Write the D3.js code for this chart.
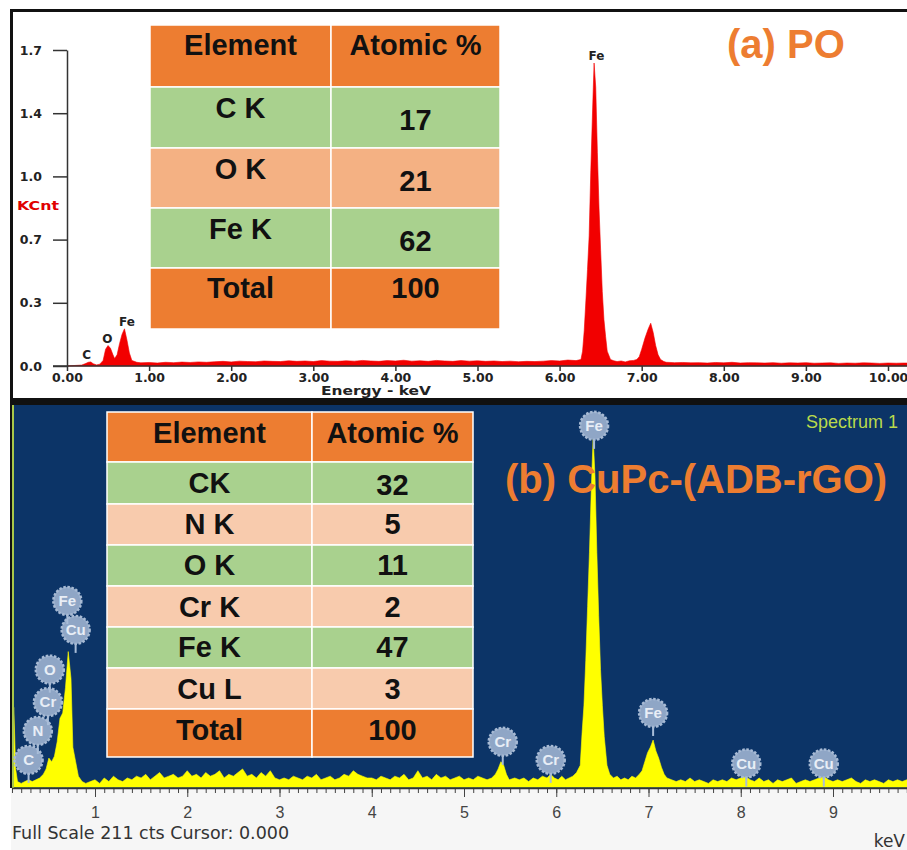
<!DOCTYPE html>
<html>
<head>
<meta charset="utf-8">
<title>EDX spectra</title>
<script src="https://d3js.org/d3.v7.min.js"></script>
<style>
  body { margin: 0; background: #fff; }
  svg text { font-family: "Liberation Sans", Arial, sans-serif; }
</style>
</head>
<body>
<script>
// ---------- data : (a) PO ----------
var tableElementsA = ['C K', 'O K', 'Fe K'];
var tableValuesA = [17, 21, 62];
var tableTotalA = 100;

var xTicksA = [0, 1, 2, 3, 4, 5, 6, 7, 8, 9, 10];
var yTicksA = [0, 0.34, 0.68, 1.02, 1.36, 1.7];
var yTickLabelsA = ['0.0', '0.3', '0.7', '1.0', '1.4', '1.7'];

// [keV, KCnt]
var specA = [
  [0.00,0],[0.10,0.003],[0.18,0.005],[0.22,0.012],[0.26,0.02],[0.29,0.022],[0.32,0.012],[0.36,0.006],
  [0.40,0.01],[0.44,0.03],[0.47,0.09],[0.50,0.11],[0.53,0.095],[0.56,0.06],[0.58,0.04],[0.61,0.06],
  [0.64,0.12],[0.67,0.17],[0.70,0.20],[0.73,0.14],[0.76,0.07],[0.79,0.03],[0.85,0.02],
  [0.9,0.017],[1.0,0.019],[1.1,0.016],[1.2,0.02],[1.3,0.018],[1.4,0.021],[1.5,0.019],[1.6,0.022],
  [1.7,0.02],[1.8,0.023],[1.9,0.025],[2.0,0.022],[2.1,0.026],[2.2,0.024],[2.3,0.023],[2.4,0.027],
  [2.5,0.025],[2.6,0.024],[2.7,0.028],[2.8,0.025],[2.9,0.027],[3.0,0.024],[3.1,0.029],[3.2,0.026],
  [3.3,0.025],[3.4,0.028],[3.5,0.026],[3.6,0.03],[3.7,0.027],[3.8,0.025],[3.9,0.029],[4.0,0.027],
  [4.1,0.031],[4.2,0.026],[4.3,0.028],[4.4,0.025],[4.5,0.03],[4.6,0.027],[4.7,0.025],[4.8,0.029],
  [4.9,0.026],[5.0,0.028],[5.1,0.025],[5.2,0.027],[5.3,0.024],[5.4,0.026],[5.5,0.023],[5.6,0.025],
  [5.7,0.024],[5.8,0.026],[5.9,0.029],[6.0,0.027],[6.1,0.032],[6.2,0.029],
  [6.26,0.035],[6.28,0.08],[6.30,0.19],[6.32,0.35],[6.34,0.52],[6.36,0.70],[6.38,1.05],[6.40,1.35],
  [6.42,1.63],[6.44,1.50],[6.46,1.15],[6.48,0.85],[6.50,0.62],[6.52,0.40],[6.54,0.25],[6.56,0.16],
  [6.58,0.08],[6.62,0.035],[6.66,0.028],[6.7,0.024],[6.75,0.027],[6.8,0.022],[6.85,0.028],[6.9,0.03],
  [6.94,0.035],[6.97,0.05],[7.00,0.09],[7.04,0.15],[7.08,0.20],[7.11,0.23],[7.14,0.18],[7.17,0.11],
  [7.20,0.06],[7.23,0.035],[7.27,0.024],
  [7.3,0.02],[7.4,0.018],[7.5,0.019],[7.6,0.017],[7.7,0.018],[7.8,0.016],[7.9,0.019],[8.0,0.017],
  [8.1,0.02],[8.2,0.016],[8.3,0.018],[8.4,0.017],[8.5,0.016],[8.6,0.018],[8.7,0.015],[8.8,0.017],
  [8.9,0.016],[9.0,0.018],[9.1,0.015],[9.2,0.016],[9.3,0.017],[9.4,0.014],[9.5,0.016],[9.6,0.015],
  [9.7,0.017],[9.8,0.016],[9.9,0.014],[10.0,0.016],[10.1,0.015],[10.2,0.016],[10.3,0.015]
];
// peak labels [name, keV, KCnt]
var peakLabelsA = [['C', 0.24, 0.02], ['O', 0.49, 0.11], ['Fe', 0.73, 0.2], ['Fe', 6.45, 1.63]];

// ---------- data : (b) CuPc-(ADB-rGO) ----------
var tableElementsB = ['CK', 'N K', 'O K', 'Cr K', 'Fe K', 'Cu L'];
var tableValuesB = [32, 5, 11, 2, 47, 3];
var tableTotalB = 100;

var xTicksB = [1, 2, 3, 4, 5, 6, 7, 8, 9];

// [keV, counts]
var specB = [
  [0.00,0],[0.08,2],[0.10,40],[0.12,44],[0.14,10],[0.16,3],[0.20,2],[0.24,3],[0.28,4],[0.32,3],
  [0.36,4],[0.40,5],[0.44,7],[0.47,10],[0.50,16],[0.53,14],[0.56,17],[0.59,25],[0.62,38],[0.65,41],
  [0.68,55],[0.71,75],[0.74,60],[0.76,22],[0.79,14],[0.82,6],[0.86,3],[0.90,2],
  [0.95,3],[1.0,4],[1.05,2],[1.1,5],[1.15,3],[1.2,6],[1.25,4],[1.3,3],[1.35,5],[1.4,4],[1.45,6],
  [1.5,5],[1.55,7],[1.6,4],[1.65,6],[1.7,8],[1.75,5],[1.8,6],[1.85,7],[1.9,5],[1.95,6],[2.0,9],
  [2.05,6],[2.1,7],[2.15,5],[2.2,8],[2.25,6],[2.3,7],[2.35,9],[2.4,5],[2.45,7],[2.5,6],[2.55,8],
  [2.6,10],[2.65,6],[2.7,7],[2.75,5],[2.8,8],[2.85,6],[2.9,9],[2.95,5],[3.0,4],[3.05,5],[3.1,4],
  [3.15,6],[3.2,5],[3.25,4],[3.3,6],[3.35,5],[3.4,7],[3.45,4],[3.5,5],[3.55,6],[3.6,4],[3.65,5],
  [3.7,7],[3.75,6],[3.8,9],[3.85,7],[3.9,6],[3.95,5],[4.0,5],[4.05,4],[4.1,6],[4.15,5],[4.2,4],
  [4.25,6],[4.3,5],[4.35,7],[4.4,4],[4.45,5],[4.5,9],[4.55,5],[4.6,6],[4.65,4],[4.7,7],[4.75,5],
  [4.8,6],[4.85,4],[4.9,5],[4.95,6],[5.0,4],[5.05,5],[5.1,4],[5.15,6],[5.2,5],[5.25,4],[5.3,5],
  [5.34,7],[5.37,10],[5.40,14],[5.43,12],[5.46,7],[5.49,4],
  [5.55,5],[5.6,4],[5.65,5],[5.7,3],[5.75,5],[5.8,4],[5.85,6],[5.9,5],[5.94,7],[5.98,5],[6.02,4],
  [6.06,6],[6.1,4],[6.14,5],[6.18,6],[6.22,8],
  [6.26,12],[6.28,30],[6.30,45],[6.32,70],[6.34,100],[6.36,130],[6.38,165],[6.40,194],[6.42,172],
  [6.44,130],[6.46,95],[6.48,65],[6.50,45],[6.52,28],[6.55,12],[6.58,7],
  [6.62,5],[6.66,6],[6.70,4],[6.74,5],[6.78,4],[6.82,6],[6.86,5],[6.90,7],
  [6.93,9],[6.96,14],[6.99,19],[7.02,22],[7.05,26],[7.08,20],[7.11,16],[7.14,11],[7.17,7],[7.20,5],
  [7.25,4],[7.3,3],[7.35,4],[7.4,3],[7.45,5],[7.5,3],[7.55,4],[7.6,3],[7.65,2],[7.7,4],[7.75,3],
  [7.8,4],[7.85,3],[7.9,5],[7.95,4],[8.0,5],[8.05,6],[8.1,4],[8.15,3],[8.2,5],[8.25,3],[8.3,4],
  [8.35,2],[8.4,4],[8.45,3],[8.5,4],[8.55,5],[8.6,2],[8.65,3],[8.7,4],[8.75,3],[8.8,4],[8.85,5],
  [8.9,6],[8.95,4],[9.0,3],[9.05,4],[9.1,3],[9.15,4],[9.2,5],[9.25,3],[9.3,2],[9.35,4],[9.4,3],
  [9.45,4],[9.5,3],[9.55,2],[9.6,4],[9.65,3],[9.7,4],[9.75,3],[9.8,4],[9.85,3],[9.9,2],[9.95,3],[10.0,3]
];
// marker labels [name, keV, counts]
var peakLabelsB = [
  ['C', 0.28, 15], ['N', 0.38, 31], ['Cr', 0.49, 47], ['O', 0.51, 65], ['Cu', 0.79, 87], ['Fe', 0.70, 103],
  ['Cr', 5.42, 25], ['Cr', 5.94, 15], ['Fe', 6.41, 200], ['Fe', 7.05, 41], ['Cu', 8.06, 13], ['Cu', 8.90, 13]
];

// ---------- drawing ----------
var width = 907, height = 850;
var orange = '#ed7d31', green = '#a9d18e';

var svg = d3.select('body').append('svg')
  .attr('width', width)
  .attr('height', height);

function drawTable(g, xs, rowTops, rows, fills, baseOffsets) {
  rows.forEach(function(r, i) {
    for (var c = 0; c < 2; c++) {
      g.append('rect')
        .attr('x', xs[c]).attr('y', rowTops[i])
        .attr('width', xs[c + 1] - xs[c]).attr('height', rowTops[i + 1] - rowTops[i])
        .attr('fill', fills[i]).attr('stroke', '#fff').attr('stroke-width', 1.5);
      g.append('text')
        .attr('x', (xs[c] + xs[c + 1]) / 2)
        .attr('y', rowTops[i] + baseOffsets[i][c])
        .attr('text-anchor', 'middle')
        .attr('font-size', 29).attr('font-weight', 'bold').attr('fill', '#111')
        .text(r[c]);
    }
  });
}

// ===== panel (a) =====
var gA = svg.append('g');
gA.append('rect').attr('x', 11.5).attr('y', 10.5).attr('width', 910).attr('height', 389)
  .attr('fill', '#fff').attr('stroke', '#111').attr('stroke-width', 3);

var xA = d3.scaleLinear().domain([0, 10]).range([67, 888]);
var yA = d3.scaleLinear().domain([0, 1.7]).range([366, 50]);

gA.append('path').datum(specA)
  .attr('fill', '#f20000')
  .attr('stroke', '#f20000').attr('stroke-width', 0.6)
  .attr('d', d3.area().x(function(d) { return xA(d[0]); }).y0(yA(0)).y1(function(d) { return yA(d[1]); }));

gA.append('line').attr('x1', 53).attr('x2', width).attr('y1', yA(0)).attr('y2', yA(0))
  .attr('stroke', '#333').attr('stroke-width', 1.5);

var axA = gA.append('g').attr('transform', 'translate(0,' + yA(0) + ')')
  .call(d3.axisBottom(xA).tickValues(xTicksA).tickFormat(d3.format('.2f')).tickSize(5).tickPadding(2));
axA.select('.domain').remove();

var ayA = gA.append('g').attr('transform', 'translate(' + xA(0) + ',0)')
  .call(d3.axisLeft(yA).tickValues(yTicksA).tickFormat(function(d, i) { return yTickLabelsA[i]; })
    .tickSize(14).tickSizeOuter(0).tickPadding(11));

[axA, ayA].forEach(function(ax) {
  ax.attr('color', '#333');
  ax.selectAll('line, path').attr('stroke-width', 1.5);
  ax.selectAll('text').style('font-family', '"DejaVu Sans", sans-serif')
    .attr('font-weight', 'bold').attr('font-size', 12.5).attr('fill', '#222');
});

gA.append('text').attr('x', 17).attr('y', 210)
  .style('font-family', '"DejaVu Sans", sans-serif')
  .attr('font-size', 13).attr('font-weight', 'bold').attr('fill', '#e00000')
  .attr('textLength', 42).attr('lengthAdjust', 'spacingAndGlyphs').text('KCnt');

gA.append('text').attr('x', 376).attr('y', 395)
  .attr('text-anchor', 'middle')
  .style('font-family', '"DejaVu Sans", sans-serif')
  .attr('font-size', 11.5).attr('font-weight', 'bold').attr('fill', '#222')
  .attr('textLength', 110).attr('lengthAdjust', 'spacingAndGlyphs').text('Energy - keV');

gA.selectAll('.plabel').data(peakLabelsA).enter().append('text')
  .attr('x', function(d) { return xA(d[1]); })
  .attr('y', function(d) { return yA(d[2]) - 3; })
  .attr('text-anchor', 'middle')
  .style('font-family', '"DejaVu Sans", sans-serif')
  .attr('font-size', 12).attr('font-weight', 'bold').attr('fill', '#222')
  .text(function(d) { return d[0]; });

var rowsA = [['Element', 'Atomic %']]
  .concat(tableElementsA.map(function(e, i) { return [e, tableValuesA[i]]; }))
  .concat([['Total', tableTotalA]]);
drawTable(gA, [150, 331, 500], [25, 87, 148, 208, 268, 329], rowsA,
  [orange, green, '#f4b183', green, orange],
  [[30, 30], [31, 43], [31, 43], [31, 43], [30, 30]]);

gA.append('text').attr('x', 727).attr('y', 58)
  .attr('font-size', 40).attr('font-weight', 'bold').attr('fill', orange).text('(a) PO');

// ===== panel (b) =====
var gB = svg.append('g');
gB.append('rect').attr('x', 10).attr('y', 401).attr('width', 897).attr('height', 4).attr('fill', '#111');
gB.append('rect').attr('x', 10).attr('y', 401).attr('width', 2).attr('height', 387).attr('fill', '#111');
gB.append('rect').attr('x', 12).attr('y', 405).attr('width', 895).attr('height', 383).attr('fill', '#0c3467');
gB.append('rect').attr('x', 11).attr('y', 788).attr('width', 896).attr('height', 62).attr('fill', '#f6f6f6');

var xB = d3.scaleLinear().domain([1, 9]).range([95, 833]);
var yB = d3.scaleLinear().domain([0, 211]).range([787, 406]);

gB.append('clipPath').attr('id', 'clipB').append('rect')
  .attr('x', 13).attr('y', 405).attr('width', 894).attr('height', 383);

gB.append('path').datum(specB)
  .attr('clip-path', 'url(#clipB)')
  .attr('fill', '#ffff00')
  .attr('stroke', '#ffff00').attr('stroke-width', 0.6)
  .attr('d', d3.area().x(function(d) { return xB(d[0]); }).y0(yB(0)).y1(function(d) { return yB(d[1]); }));

// left axis line
gB.append('line').attr('x1', 13).attr('x2', 13).attr('y1', 405).attr('y2', 788)
  .attr('stroke', '#a8c84a').attr('stroke-width', 2);

// ruler
var minorTicks = d3.range(1, 100).map(function(i) { return i / 10; });
var axMinor = gB.append('g').attr('transform', 'translate(0,788)')
  .call(d3.axisBottom(xB).tickValues(minorTicks).tickFormat('').tickSize(5).tickSizeOuter(0));
axMinor.select('.domain').remove();
var axB = gB.append('g').attr('transform', 'translate(0,788)')
  .call(d3.axisBottom(xB).tickValues(xTicksB).tickFormat(d3.format('d')).tickSize(9).tickPadding(10));
axB.select('.domain').remove();
[axMinor, axB].forEach(function(ax) {
  ax.attr('color', '#444');
  ax.selectAll('text').attr('font-size', 16).attr('fill', '#444')
    .style('font-family', '"Liberation Sans", Arial, sans-serif');
});
gB.append('line').attr('x1', 12).attr('x2', width).attr('y1', 788.5).attr('y2', 788.5)
  .attr('stroke', '#333').attr('stroke-width', 1.5);

gB.append('text').attr('x', 12).attr('y', 839)
  .style('font-family', '"DejaVu Sans", sans-serif')
  .attr('font-size', 17.5).attr('fill', '#333')
  .text('Full Scale 211 cts Cursor: 0.000');
gB.append('text').attr('x', 905).attr('y', 847).attr('text-anchor', 'end')
  .style('font-family', '"DejaVu Sans", sans-serif')
  .attr('font-size', 17).attr('fill', '#333').text('keV');

// element markers
var mk = gB.selectAll('.marker').data(peakLabelsB).enter().append('g')
  .attr('transform', function(d) { return 'translate(' + xB(d[1]) + ',' + yB(d[2]) + ')'; });
mk.append('line').attr('x1', 0).attr('x2', 0).attr('y1', 13).attr('y2', 23)
  .attr('stroke', '#a9bdd8').attr('stroke-width', 2);
mk.append('circle').attr('r', 14)
  .attr('fill', '#8fa6c6')
  .attr('stroke', '#a7bad4').attr('stroke-width', 2.5).attr('stroke-dasharray', '2.5,1.6');
mk.append('text').attr('y', 5).attr('text-anchor', 'middle')
  .attr('font-size', 15).attr('font-weight', 'bold').attr('fill', '#e8eef6')
  .text(function(d) { return d[0]; });

var rowsB = [['Element', 'Atomic %']]
  .concat(tableElementsB.map(function(e, i) { return [e, tableValuesB[i]]; }))
  .concat([['Total', tableTotalB]]);
var peach = '#f8cbad';
drawTable(gB, [107, 312, 473], [412, 462, 504, 545, 586, 627, 668, 709, 757], rowsB,
  [orange, green, peach, green, peach, green, peach, orange],
  [[31, 31], [31, 33], [30, 30], [30, 30], [31, 31], [30, 30], [31, 31], [31, 31]]);

gB.append('text').attr('x', 898).attr('y', 428).attr('text-anchor', 'end')
  .attr('font-size', 18).attr('fill', '#b9d94c').text('Spectrum 1');

gB.append('text').attr('x', 505).attr('y', 493)
  .attr('font-size', 40).attr('font-weight', 'bold').attr('fill', orange).text('(b) CuPc-(ADB-rGO)');
</script>
</body>
</html>
